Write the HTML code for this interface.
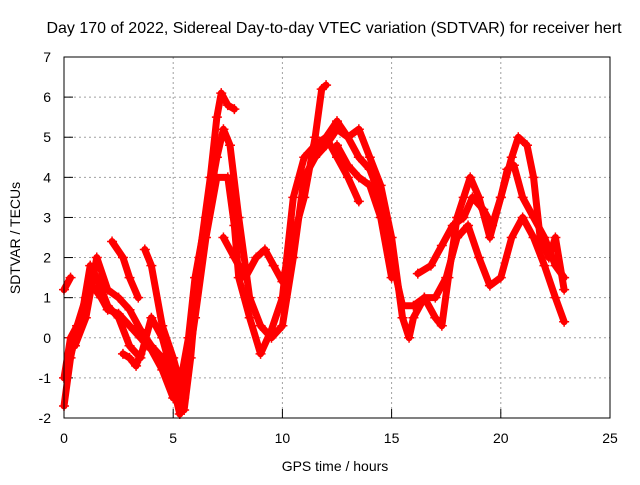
<!DOCTYPE html>
<html><head><meta charset="utf-8"><style>
body{margin:0;background:#fff;font-family:"Liberation Sans",sans-serif;}
</style></head><body>
<svg id="chart" width="640" height="480" xmlns="http://www.w3.org/2000/svg" font-family="Liberation Sans, sans-serif" font-size="14">
<rect width="640" height="480" fill="#fff"/>
<text x="334" y="33" text-anchor="middle" font-size="16">Day 170 of 2022, Sidereal Day-to-day VTEC variation (SDTVAR) for receiver hert</text>
<text transform="translate(20,238) rotate(-90)" text-anchor="middle">SDTVAR / TECUs</text>
<text x="335" y="471" text-anchor="middle">GPS time / hours</text>
<g id="grid"></g>
<g id="ticks"></g>
<g id="series"></g>
<rect x="64" y="57" width="546" height="361" fill="none" stroke="#000" stroke-width="1"/>
</svg>
<script>
const xTicks=[0,5,10,15,20,25];
const yTicks=[-2,-1,0,1,2,3,4,5,6,7];
const s1=[[0,-1.7],[0.3,-0.5],[0.6,0.3],[1.0,1.0],[1.3,1.3],[1.7,1.0],[2.0,0.7],[2.5,0.6],[3.0,0.3],[3.5,0.0],[4.0,-0.3],[4.5,-0.8],[5.0,-1.5],[5.3,-1.2],[5.7,0.0],[6.0,1.5],[6.5,3.0],[7.0,4.5],[7.3,5.2],[7.6,4.8],[8.0,3.0],[8.5,1.0],[9.0,0.3],[9.5,0.0],[10.0,0.3],[10.5,2.0],[11.0,4.0],[11.5,4.5],[12.0,4.8],[12.5,5.2],[13.0,5.0],[13.5,4.5],[14.0,4.2],[14.5,3.5],[15.0,2.0],[15.5,0.8],[16.0,0.8],[16.5,1.0],[17.0,1.0],[17.5,1.5],[18.0,2.5],[18.5,2.8],[19.0,2.0],[19.5,1.3],[20.0,1.5],[20.5,2.5],[21.0,3.0],[21.5,2.5],[22.0,1.8],[22.5,1.0],[22.9,0.4]];
const s2=[[0,-1.0],[0.3,0],[0.8,0.5],[1.2,1.8],[1.5,1.5],[2.0,0.8],[2.5,0.5],[3.0,-0.2],[3.5,-0.5],[4.0,0.5],[4.5,0],[5.0,-1.0],[5.5,-1.8],[5.8,-0.5],[6.2,2.0],[6.7,4.0],[7.0,5.5],[7.2,6.1],[7.5,5.8],[7.8,5.7]];
const s3=[[7.3,2.5],[7.8,2.0],[8.3,1.5],[8.8,2.0],[9.2,2.2],[9.6,1.8],[10.0,1.4],[10.5,2.5],[11.0,3.5],[11.5,5.0],[11.8,6.2],[12.0,6.3]];
const s4=[[0.5,-0.2],[1.0,0.5],[1.5,2.0],[2.0,1.2],[2.5,1.0],[3.0,0.7],[3.5,0.2],[4.0,-0.2],[4.5,-0.5],[5.0,-1.2],[5.3,-1.9],[5.6,-1.0],[6.0,0.5],[6.5,2.5],[7.0,4.0],[7.5,4.0],[7.8,2.8],[8.0,1.5],[8.5,0.5],[9.0,-0.4],[9.5,0.2],[10.0,1.0],[10.5,3.5],[11.0,4.5],[11.5,4.8],[12.0,5.0],[12.5,4.5],[13.0,4.0],[13.5,3.4]];
const s5=[[2.2,2.4],[2.7,2.0],[3.0,1.5],[3.4,1.0]];
const s6=[[3.7,2.2],[4.0,1.8],[4.5,0.3],[5.0,-0.5],[5.5,-1.5]];
const s7=[[11.5,4.6],[12.0,5.0],[12.5,5.4],[13.0,5.0],[13.5,5.2],[14.0,4.5],[14.5,3.8],[15.0,2.5],[15.5,0.5],[15.8,0.0],[16.0,0.5],[16.5,1.0],[17.0,0.5],[17.3,0.3],[17.6,1.5],[18.0,3.0],[18.3,3.5],[18.6,4.0],[19.0,3.5],[19.5,2.5],[20.0,3.5],[20.5,4.5],[20.8,5.0],[21.2,4.8],[21.5,4.0],[21.8,2.5],[22.2,2.0],[22.5,2.5],[22.9,1.2]];
const s8=[[16.2,1.6],[16.8,1.8],[17.3,2.3],[17.8,2.8],[18.3,3.0],[18.7,3.5],[19.2,3.2],[19.6,2.8],[20.0,3.5],[20.3,4.2],[20.6,4.3],[21.0,3.5],[21.5,3.0],[22.0,2.5],[22.5,1.8],[22.9,1.5]];
const s9=[[0,1.2],[0.3,1.5]];
const s10=[[2.7,-0.4],[3.0,-0.5],[3.3,-0.7],[3.5,-0.4]];
const s11=[[12.5,4.8],[13.0,4.3],[13.5,4.0],[14.0,3.8],[14.5,3.0],[15.0,1.5]];
const allSeries=[s1,s2,s3,s4,s5,s6,s7,s8,s9,s10,s11];
const X=v=>64+v*(546/25);
const Y=v=>418-(v+2)*(361/9);
const NS="http://www.w3.org/2000/svg";
const grid=document.getElementById('grid'),ticks=document.getElementById('ticks'),ser=document.getElementById('series');
function mk(t,a,p){const e=document.createElementNS(NS,t);for(const k in a)e.setAttribute(k,a[k]);p.appendChild(e);return e;}
xTicks.forEach(v=>{
 const x=X(v);
 if(v>0&&v<25){const g=mk('line',{x1:x,y1:57,x2:x,y2:418,stroke:'#a0a0a0','stroke-dasharray':'2,3'},grid);
 
 }
 const t=mk('line',{x1:x,y1:418,x2:x,y2:409,stroke:'#000'},ticks);
 
 
 const tx=mk('text',{x:x,y:443,'text-anchor':'middle'},ticks);tx.textContent=v;
 
 
});
yTicks.forEach(v=>{
 const y=Y(v);
 if(v>-2&&v<7){const g=mk('line',{x1:64,y1:y,x2:610,y2:y,stroke:'#a0a0a0','stroke-dasharray':'2,3'},grid);
 
 }
 const t=mk('line',{x1:64,y1:y,x2:73,y2:y,stroke:'#000'},ticks);
 
 
 const tx=mk('text',{x:51,y:y+5,'text-anchor':'end'},ticks);tx.textContent=v;
 
 
});
allSeries.forEach((s,i)=>{
 const p=mk('polyline',{points:s.map(d=>X(d[0])+','+Y(d[1])).join(' '),fill:'none',stroke:'#f00','stroke-width':7,'stroke-linejoin':'round','stroke-linecap':'round'},ser);
 
 
 s.forEach(d=>{
  const x=X(d[0]),y=Y(d[1]);
  const m=mk('path',{d:`M${x-5},${y}H${x+5}M${x},${y-5}V${y+5}`,stroke:'#f00','stroke-width':1.5},ser);
  
  
 });
});
</script>
</body></html>
